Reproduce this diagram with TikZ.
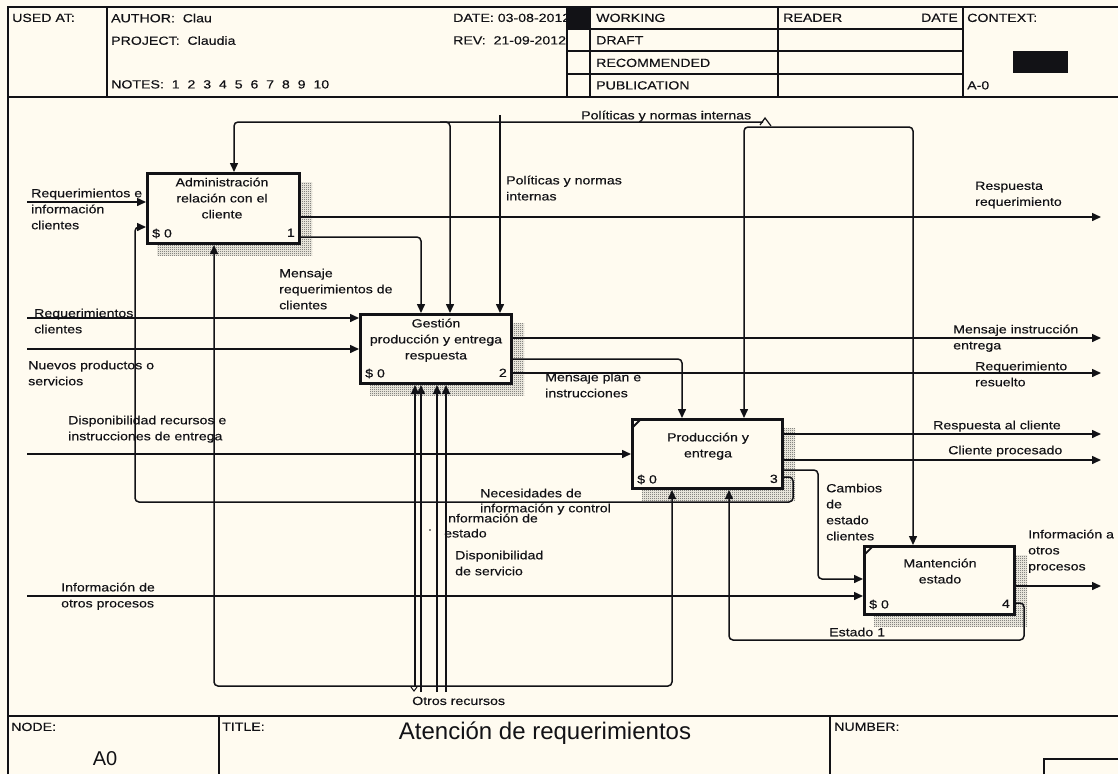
\documentclass[tikz,border=0pt]{standalone}
\usepackage{fontspec}
\setmainfont{Liberation Sans}[FakeStretch=1.2,FakeBold=0.3]
\newfontfamily\titlefont{Liberation Sans}
\usetikzlibrary{arrows.meta,patterns,calc}
\definecolor{paper}{RGB}{255,251,240}
\definecolor{ink}{RGB}{18,18,22}
\definecolor{hatch}{RGB}{70,70,70}
\newcommand\lblfont{\fontsize{11.8}{16}\selectfont}
% fine checker used for the drop shadows of the activity boxes
\pgfdeclarepatternformonly{finechecker}{\pgfpointorigin}{\pgfqpoint{2pt}{2pt}}{\pgfqpoint{2pt}{2pt}}{%
  \pgfpathrectangle{\pgfpointorigin}{\pgfqpoint{1pt}{1pt}}%
  \pgfpathrectangle{\pgfqpoint{1pt}{1pt}}{\pgfqpoint{1pt}{1pt}}%
  \pgfusepath{fill}}

\begin{document}
\begin{tikzpicture}[x=1pt,y=-1pt,
  framerule/.style={draw=ink,line width=1.6pt},
  heavyrule/.style={draw=ink,line width=2.2pt},
  actbox/.style={draw=ink,line width=3pt,inner sep=0pt,anchor=north west},
  conn/.style={draw=ink,line width=1.5pt,rounded corners=4pt},
  arr/.style={conn,-{Triangle[length=9pt,width=8pt]}},
  dropshadow/.style={pattern=finechecker,pattern color=hatch},
  lbl/.style={font=\lblfont,text=ink,inner sep=0pt,anchor=north west,align=left},
  boxtitle/.style={lbl,anchor=north,align=center},
  cornermark/.style={draw=ink,line width=1.8pt}
]
\useasboundingbox (0,0) rectangle (1118,774);
\fill[paper] (0,0) rectangle (1118,774);

% ---------- sheet frame ----------
\draw[framerule] (8,774) -- (8,7) -- (1118,7);
\draw[heavyrule] (8,97) -- (1118,97);
\draw[heavyrule] (8,716) -- (1118,716);

% header columns and rows
\draw[framerule] (107,7) -- (107,97);
\draw[framerule] (567,7) -- (567,97);
\draw[framerule] (590,7) -- (590,97);
\draw[framerule] (778,7) -- (778,97);
\draw[framerule] (963,7) -- (963,97);
\draw[framerule] (567,29) -- (963,29);
\draw[framerule] (567,51) -- (963,51);
\draw[framerule] (567,74) -- (963,74);
\fill[ink] (567,7) rectangle (590,29);
\fill[ink] (1013,51) rectangle (1068,73);

\node[lbl] (usedat) at (12,13.5) {USED AT:};
\node[lbl] (author) at (111,13.5) {AUTHOR:\ \ Clau};
\node[lbl] (project) at (111,36) {PROJECT:\ \ Claudia};
\node[lbl] (notes) at (111,80) {NOTES:\ \ 1\ \ 2\ \ 3\ \ 4\ \ 5\ \ 6\ \ 7\ \ 8\ \ 9\ \ 10};
\node[lbl] (date) at (453,13.5) {DATE: 03-08-2012};
\node[lbl] (rev) at (453,36) {REV:\ \ 21-09-2012};
\node[lbl] (working) at (596,13.5) {WORKING};
\node[lbl] (draft) at (596,36) {DRAFT};
\node[lbl] (recommended) at (596,58.5) {RECOMMENDED};
\node[lbl] (publication) at (596,81) {PUBLICATION};
\node[lbl] (reader) at (783,13.5) {READER};
\node[lbl,anchor=north east] (readerdate) at (958,13.5) {DATE};
\node[lbl] (context) at (967,13.5) {CONTEXT:};
\node[lbl] (ctxnode) at (967,81) {A-0};

% title block
\draw[framerule] (219,716) -- (219,774);
\draw[framerule] (830,716) -- (830,774);
\draw[framerule] (1044,774) -- (1044,759) -- (1118,759);
\node[lbl] (nodelbl) at (11,722.5) {NODE:};
\node[font=\titlefont\fontsize{20}{22}\selectfont,text=ink,inner sep=0pt] (nodeid) at (105,759) {A0};
\node[lbl] (titlelbl) at (222,722.5) {TITLE:};
\node[font=\titlefont\fontsize{24}{26}\selectfont,text=ink,inner sep=0pt] (title) at (545,733) {Atención de requerimientos};
\node[lbl] (numberlbl) at (834,722.5) {NUMBER:};

% ---------- activity boxes ----------
\node[actbox,minimum width=152pt,minimum height=70pt] (A1) at (146,172) {};
\node[actbox,minimum width=151pt,minimum height=69pt] (A2) at (359,313) {};
\node[actbox,minimum width=150pt,minimum height=69pt] (A3) at (631,418) {};
\node[actbox,minimum width=150pt,minimum height=68pt] (A4) at (863,545) {};

\foreach \b in {A1,A2,A3,A4}{
  \fill[dropshadow] ($(\b.north east)+(0,10)$) rectangle ($(\b.south east)+(11,10)$);
  \fill[dropshadow] ($(\b.south west)+(11,0)$) rectangle ($(\b.south east)+(0,10)$);
}
\draw[cornermark] ($(A3.north west)+(2,9)$) -- ($(A3.north west)+(10,1)$);
\draw[cornermark] ($(A4.north west)+(2,9)$) -- ($(A4.north west)+(10,1)$);

\node[boxtitle] (A1t) at (222,177.5) {Administración\\relación con el\\cliente};
\node[lbl] (A1m) at (152,228.5) {\$ 0};
\node[lbl,anchor=north east] (A1n) at (295,228.5) {1};
\node[boxtitle] (A2t) at (436,318.5) {Gestión\\producción y entrega\\respuesta};
\node[lbl] (A2m) at (365,368.5) {\$ 0};
\node[lbl,anchor=north east] (A2n) at (507,368.5) {2};
\node[boxtitle] (A3t) at (708,432.5) {Producción y\\entrega};
\node[lbl] (A3m) at (637,474.5) {\$ 0};
\node[lbl,anchor=north east] (A3n) at (778,474.5) {3};
\node[boxtitle] (A4t) at (940,558.5) {Mantención\\estado};
\node[lbl] (A4m) at (869,599.5) {\$ 0};
\node[lbl,anchor=north east] (A4n) at (1010,599.5) {4};

% ---------- boundary points and bends ----------
\coordinate (src1) at (27,202);
\coordinate (src2) at (27,318);
\coordinate (src3) at (27,349);
\coordinate (src4) at (27,454);
\coordinate (src5) at (27,596);
\coordinate (snk1) at (1101,217);
\coordinate (snk2) at (1101,338);
\coordinate (snk3) at (1101,373);
\coordinate (snk4) at (1101,434);
\coordinate (snk5) at (1101,460);
\coordinate (snk6) at (1101,586);
\coordinate (top1) at (763,122);
\coordinate (top2) at (500,115);
\coordinate (w1) at (135,227);
\coordinate (w2) at (421,237);
\coordinate (w3) at (234,122);
\coordinate (w4) at (450,122);
\coordinate (w5) at (744,127);
\coordinate (w6) at (913,127);
\coordinate (w7) at (682,359);
\coordinate (w8) at (818,470);
\coordinate (w9) at (818,579);
\coordinate (w10) at (1024,603);
\coordinate (w11) at (1024,640);
\coordinate (w12) at (729,640);
\coordinate (w13) at (214,686);
\coordinate (w14) at (672,686);
\coordinate (n1) at (793,477);
\coordinate (n2) at (793,502);
\coordinate (n3) at (135,502);
\coordinate (hub) at (415,686);
\coordinate (m1) at (421,692);
\coordinate (m2) at (437,692);
\coordinate (m3) at (446,692);

% ---------- inputs ----------
\draw[arr] (src1) -- (A1.west |- src1);
\draw[arr] (src2) -- (A2.west |- src2);
\draw[arr] (src3) -- (A2.west |- src3);
\draw[arr] (src4) -- (A3.west |- src4);
\draw[arr] (src5) -- (A4.west |- src5);

% ---------- controls ----------
\draw[arr] (top1) -- (w3) -- (w3 |- A1.north);
\draw[arr] ($(w4)+(-10,0)$) -- (w4) -- (w4 |- A2.north);
\draw[arr] (top2) -- (top2 |- A2.north);
\draw[arr] ($(w5)+(24,0)$) -- (w5) -- (w5 |- A3.north);
\draw[arr] ($(w5)+(24,0)$) -- (w6) -- (w6 |- A4.north);
\draw[draw=ink,line width=1.2pt] (760,125) -- (765,118) -- (771,126);

% ---------- outputs ----------
\draw[arr] (A1.east |- snk1) -- (snk1);
\draw[arr] (A1.east |- w2) -- (w2) -- (w2 |- A2.north);
\draw[arr] (A2.east |- snk2) -- (snk2);
\draw[arr] (A2.east |- w7) -- (w7) -- (w7 |- A3.north);
\draw[arr] (A2.east |- snk3) -- (snk3);
\draw[arr] (A3.east |- snk4) -- (snk4);
\draw[arr] (A3.east |- snk5) -- (snk5);
\draw[arr] (A3.east |- w8) -- (w8) -- (w9) -- (A4.west |- w9);
\draw[arr] (A3.east |- n1) -- (n1) -- (n2) -- (n3) -- (w1) -- (A1.west |- w1);
\draw[arr] (A4.east |- snk6) -- (snk6);
\draw[arr] (A4.east |- w10) -- (w10) -- (w11) -- (w12) -- (w12 |- A3.south);

% ---------- mechanisms ----------
\draw[arr] (hub) -- (w13) -- (w13 |- A1.south);
\draw[arr] (hub) -- (w14) -- (w14 |- A3.south);
\draw[arr] (hub) -- (hub |- A2.south);
\draw[arr] (m1) -- (m1 |- A2.south);
\draw[arr] (m2) -- (m2 |- A2.south);
\draw[arr] (m3) -- (m3 |- A2.south);
\draw[draw=ink,line width=1pt] (411,687) -- (414,691) -- (417,687);
\fill[ink] (430,530) circle (0.8);

% ---------- arrow labels ----------
\node[lbl] (l1) at (31,188.5) {Requerimientos e\\información\\clientes};
\node[lbl] (l2) at (581,110.5) {Políticas y normas internas};
\node[lbl] (l3) at (506,175.5) {Políticas y normas\\internas};
\node[lbl] (l4) at (975,181.5) {Respuesta\\requerimiento};
\node[lbl] (l5) at (279,268.5) {Mensaje\\requerimientos de\\clientes};
\node[lbl] (l6) at (34,308.5) {Requerimientos\\clientes};
\node[lbl] (l7) at (28,360.5) {Nuevos productos o\\servicios};
\node[lbl] (l8) at (953,324.5) {Mensaje instrucción\\entrega};
\node[lbl] (l9) at (975,361.5) {Requerimiento\\resuelto};
\node[lbl] (l10) at (545,372.5) {Mensaje plan e\\instrucciones};
\node[lbl] (l11) at (68,415.5) {Disponibilidad recursos e\\instrucciones de entrega};
\node[lbl] (l12) at (933,420.5) {Respuesta al cliente};
\node[lbl] (l13) at (948,445.5) {Cliente procesado};
\node[lbl] (l14) at (826,483.5) {Cambios\\de\\estado\\clientes};
\node[lbl] (l15) at (480,488.5) {Necesidades de\\[-1pt]información y control};
\node[lbl] (l16) at (444,513.5) {Información de\\[-1pt]estado};
\node[lbl] (l17) at (455,550.5) {Disponibilidad\\de servicio};
\node[lbl] (l18) at (61,582.5) {Información de\\otros procesos};
\node[lbl] (l19) at (1028,529.5) {Información a\\otros\\procesos};
\node[lbl] (l20) at (829,627.5) {Estado 1};
\node[lbl] (l21) at (412,696.5) {Otros recursos};
\end{tikzpicture}
\end{document}
